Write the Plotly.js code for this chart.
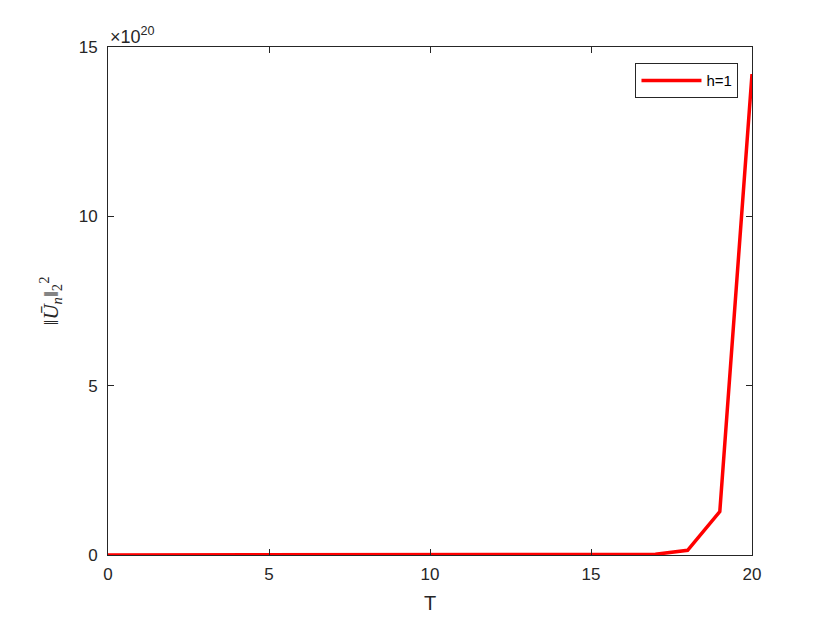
<!DOCTYPE html>
<html>
<head>
<meta charset="utf-8">
<script src="https://cdn.plot.ly/plotly-3.0.1.min.js"></script>
<style>html,body{margin:0;padding:0;background:#fff;}#chart{width:830px;height:623px;}</style>
</head>
<body>
<div id="chart"></div>
<script>
// Time steps T
const T = [0,1,2,3,4,5,6,7,8,9,10,11,12,13,14,15,16,17,18,19,20];
// ||U_n||_2^2 in units of 1e20
const normValues = [0,0,0,0,0,0,0,0,0,0,0.0000001,0.000001,0.00001,0.00005,0.0002,0.0008,0.003,0.02,0.14,1.28,14.2];
const seriesName = 'h=1';
const xTicks = [0,5,10,15,20];
const yTicks = [0,5,10,15];

const axisColor = '#262626';
const trace = {
  x: T, y: normValues, type: 'scatter', mode: 'lines', name: seriesName,
  line: {color: '#ff0000', width: 3.5}
};
const layout = {
  width: 830, height: 623,
  margin: {l: 108, r: 78, t: 47, b: 68},
  paper_bgcolor: '#fff', plot_bgcolor: '#fff',
  font: {family: 'Liberation Sans, Arial, sans-serif', color: axisColor, size: 16},
  showlegend: true,
  legend: {
    x: 0.979, y: 0.968, xanchor: 'right', yanchor: 'top',
    bordercolor: axisColor, borderwidth: 1, bgcolor: '#fff',
    font: {size: 15, color: '#000'}, itemwidth: 60,
    tracegroupgap: 0
  },
  xaxis: {
    range: [0, 20], tickvals: xTicks, ticktext: xTicks.map(String),
    ticks: 'inside', ticklen: 6, tickcolor: axisColor, tickwidth: 1,
    showline: true, linecolor: axisColor, linewidth: 1, mirror: 'ticks',
    showgrid: false, zeroline: false, ticklabelstandoff: 4,
    tickfont: {size: 17},
    title: {text: 'T', font: {size: 20}, standoff: 12}
  },
  yaxis: {
    range: [0, 15], tickvals: yTicks, ticktext: yTicks.map(String),
    ticks: 'inside', ticklen: 6, tickcolor: axisColor, tickwidth: 1,
    showline: true, linecolor: axisColor, linewidth: 1, mirror: 'ticks',
    showgrid: false, zeroline: false, ticklabelstandoff: 6,
    tickfont: {size: 17},
    title: {text: '‖<i>Ū</i><sub><i>n</i></sub>‖<sub>2</sub><sup>2</sup>', font: {size: 21, family: 'Liberation Serif, DejaVu Serif, serif'}, standoff: 14}
  },
  annotations: [{
    xref: 'paper', yref: 'paper', x: 0, y: 1, xanchor: 'left', yanchor: 'bottom',
    text: '×10<sup>20</sup>', showarrow: false, font: {size: 18, color: axisColor}, yshift: -2
  }]
};
Plotly.newPlot('chart', [trace], layout, {displayModeBar: false, staticPlot: true});
</script>
</body>
</html>
